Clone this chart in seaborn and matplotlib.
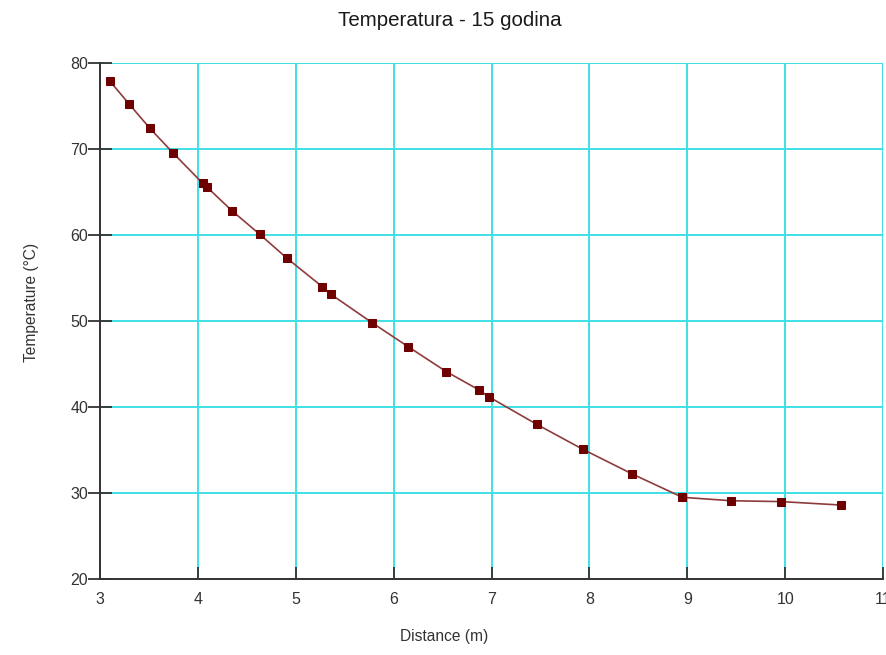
import matplotlib
matplotlib.use("Agg")
import matplotlib.pyplot as plt
import seaborn as sns
import pandas as pd

# Measured temperature profile along the distance
distance_m = [3.10, 3.30, 3.51, 3.75, 4.05, 4.09, 4.35, 4.63, 4.91, 5.27, 5.36, 5.78,
              6.15, 6.54, 6.87, 6.97, 7.46, 7.93, 8.44, 8.95, 9.45, 9.96, 10.57]
temperature_c = [77.9, 75.2, 72.4, 69.5, 66.0, 65.6, 62.8, 60.1, 57.3, 54.0, 53.1, 49.8,
                 47.0, 44.1, 42.0, 41.2, 38.0, 35.1, 32.2, 29.5, 29.1, 29.0, 28.6]
x_ticks = [3, 4, 5, 6, 7, 8, 9, 10, 11]
y_ticks = [20, 30, 40, 50, 60, 70, 80]

df = pd.DataFrame({"Distance": distance_m, "Temperature": temperature_c})

sns.set_style("white")
plt.rcParams["font.family"] = ["Liberation Sans", "DejaVu Sans"]

fig = plt.figure(figsize=(8.87, 6.55), dpi=100)
ax = fig.add_axes([100 / 887, 1 - 579 / 655, 783 / 887, (579 - 63) / 655])

sns.lineplot(data=df, x="Distance", y="Temperature", sort=False, ax=ax,
             color="#8e3b3b", linewidth=1.2, marker="s", markersize=5.2,
             markerfacecolor="#6e0000", markeredgecolor="#6e0000", zorder=3)

ax.set_xlim(3, 11)
ax.set_ylim(20, 80)
ax.set_xticks(x_ticks)
ax.set_yticks(y_ticks)
ax.grid(True, color="#3ee0e8", linewidth=1.4, zorder=0)
ax.set_axisbelow(True)

for side in ("top", "right"):
    ax.spines[side].set_visible(False)
for side in ("left", "bottom"):
    ax.spines[side].set_color("#333333")
    ax.spines[side].set_linewidth(1.4)

ax.tick_params(axis="y", left=True, direction="inout", length=17, width=1.3,
               color="#333333", labelsize=11.5, labelcolor="#333333", pad=0)
ax.tick_params(axis="x", bottom=True, direction="in", length=9, width=1.3,
               color="#333333", labelsize=11.5, labelcolor="#333333", pad=9)
ax.set_xlabel("")
ax.set_ylabel("")

fig.text(450 / 887, 1 - 21 / 655, "Temperatura - 15 godina", ha="center", va="center",
         fontsize=14.8, color="#1a1a1a")
fig.text(444 / 887, 1 - 636 / 655, "Distance (m)", ha="center", va="center",
         fontsize=11.2, color="#333333")
fig.text(32 / 887, 1 - 302 / 655, "Temperature (°C)", ha="center", va="center",
         rotation=90, fontsize=11.2, color="#333333")

fig.savefig("out.png", dpi=100, facecolor="white")
